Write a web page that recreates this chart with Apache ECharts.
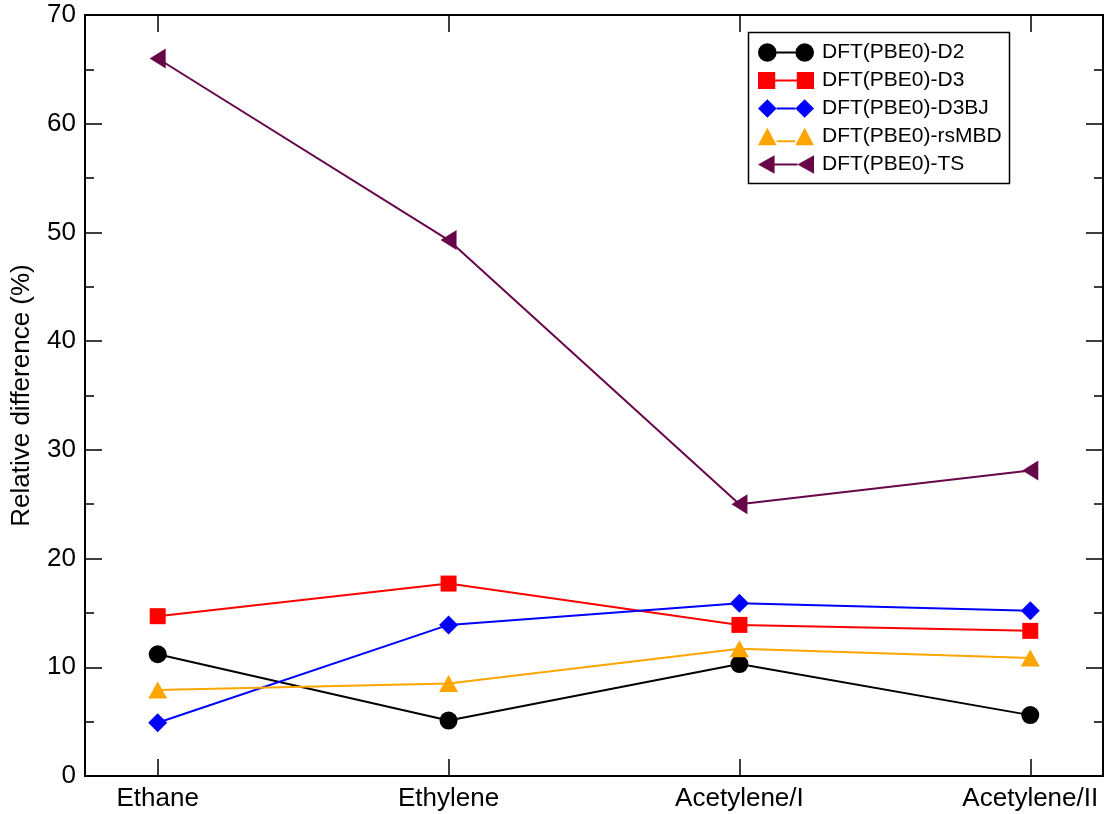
<!DOCTYPE html>
<html>
<head>
<meta charset="utf-8">
<script src="https://cdn.jsdelivr.net/npm/echarts@6/dist/echarts.min.js"></script>
<style>
  html, body { margin: 0; padding: 0; background: #ffffff; }
  #chart { width: 1112px; height: 814px; }
</style>
</head>
<body>
<div id="chart"></div>
<script>
// Systems on the horizontal axis
const categories = ['Ethane', 'Ethylene', 'Acetylene/I', 'Acetylene/II'];

// Relative difference (%) for each dispersion correction
const d2    = [11.2, 5.1, 10.3, 5.6];
const d3    = [14.7, 17.7, 13.9, 13.35];
const d3bj  = [4.9, 13.9, 15.9, 15.2];
const rsmbd = [7.9, 8.5, 11.7, 10.85];
const ts    = [66.0, 49.3, 25.0, 28.1];

// Y-axis ticks
const yMin = 0, yMax = 70, yStep = 10;

const FONT = "'Liberation Sans', Arial, Helvetica, sans-serif";
const AXIS_W = 2;

// Legend icons: marker - line - marker
const ICONS = {
  circle:  'path://M0,9A9,9 0 1,1 18,9A9,9 0 1,1 0,9Z M18,8L36,8L36,10L18,10Z M36,9A9,9 0 1,1 54,9A9,9 0 1,1 36,9Z',
  square:  'path://M1,1L17,1L17,17L1,17Z M17,8L37,8L37,10L17,10Z M37,1L53,1L53,17L37,17Z',
  diamond: 'path://M0,9L9,0L18,9L9,18Z M18,8L36,8L36,10L18,10Z M36,9L45,0L54,9L45,18Z',
  triangle:'path://M0,17L9,0L18,17Z M18,12L36,12L36,14L18,14Z M36,17L45,0L54,17Z',
  left:    'path://M0,9L16,0L16,18Z M16,8L38,8L38,10L16,10Z M38,9L54,0L54,18Z'
};

const seriesDefs = [
  { name: 'DFT(PBE0)-D2',    data: d2,    color: '#000000', symbol: 'circle',  size: 18, icon: ICONS.circle },
  { name: 'DFT(PBE0)-D3',    data: d3,    color: '#ff0000', symbol: 'rect',    size: 16, icon: ICONS.square },
  { name: 'DFT(PBE0)-D3BJ',  data: d3bj,  color: '#0000ff', symbol: 'diamond', size: [19, 19], icon: ICONS.diamond },
  { name: 'DFT(PBE0)-rsMBD', data: rsmbd, color: '#ffa500', symbol: 'triangle',size: [19, 17], icon: ICONS.triangle },
  { name: 'DFT(PBE0)-TS',    data: ts,    color: '#670748', symbol: 'path://M0,10L16,0L16,20Z', size: [16, 20], icon: ICONS.left }
];

const catIdx = categories.map((_, i) => i);

const chart = echarts.init(document.getElementById('chart'), null, { renderer: 'canvas' });

const xCommon = {
  type: 'value',
  min: -0.25,
  max: 3.25,
  splitLine: { show: false },
  axisLine: { show: true, onZero: false, lineStyle: { color: '#000', width: AXIS_W } },
  axisTick: { show: true, inside: true, length: 17, customValues: catIdx, lineStyle: { color: '#000', width: 1.5 } },
  minorTick: { show: false }
};

const yCommon = {
  type: 'value',
  min: yMin,
  max: yMax,
  interval: yStep,
  splitLine: { show: false },
  axisLine: { show: true, onZero: false, lineStyle: { color: '#000', width: AXIS_W } },
  axisTick: { show: true, inside: true, length: 17, lineStyle: { color: '#000', width: 1.5 } },
  minorTick: { show: true, splitNumber: 2, length: 9, lineStyle: { color: '#000', width: 1.5 } }
};

chart.setOption({
  animation: false,
  backgroundColor: '#ffffff',
  textStyle: { fontFamily: FONT },
  grid: { left: 85, right: 9, top: 15, bottom: 38, containLabel: false, outerBoundsMode: 'none' },
  xAxis: [
    Object.assign({}, xCommon, {
      position: 'bottom',
      axisLabel: {
        show: true,
        customValues: catIdx,
        margin: 10,
        color: '#000',
        fontSize: 26,
        fontFamily: FONT,
        formatter: v => categories[Math.round(v)] || ''
      }
    }),
    Object.assign({}, xCommon, {
      position: 'top',
      axisLabel: { show: false }
    })
  ],
  yAxis: [
    Object.assign({}, yCommon, {
      position: 'left',
      name: 'Relative difference (%)',
      nameLocation: 'middle',
      nameGap: 50,
      nameTextStyle: { color: '#000', fontSize: 26, fontFamily: FONT },
      axisLabel: { show: true, margin: 9, color: '#000', fontSize: 26, fontFamily: FONT }
    }),
    Object.assign({}, yCommon, {
      position: 'right',
      axisLabel: { show: false }
    })
  ],
  legend: {
    orient: 'vertical',
    left: 758,
    top: 42,
    padding: 0,
    itemWidth: 56,
    itemHeight: 21,
    itemGap: 7,
    selectedMode: false,
    z: 20,
    textStyle: { color: '#000', fontSize: 21, fontFamily: FONT, padding: [0, 0, 0, 3] },
    data: seriesDefs.map(s => ({ name: s.name, icon: s.icon, itemStyle: { color: s.color } }))
  },
  graphic: [{
    type: 'rect',
    z: 10,
    shape: { x: 748.5, y: 32.5, width: 261, height: 151 },
    style: { fill: '#ffffff', stroke: '#000000', lineWidth: 1.5 }
  }],
  series: seriesDefs.map(s => ({
    name: s.name,
    type: 'line',
    xAxisIndex: 0,
    yAxisIndex: 0,
    data: s.data.map((v, i) => [i, v]),
    symbol: s.symbol,
    symbolSize: s.size,
    showAllSymbol: true,
    lineStyle: { color: s.color, width: 2 },
    itemStyle: { color: s.color, borderWidth: 0 },
    emphasis: { disabled: true }
  }))
});
</script>
</body>
</html>
